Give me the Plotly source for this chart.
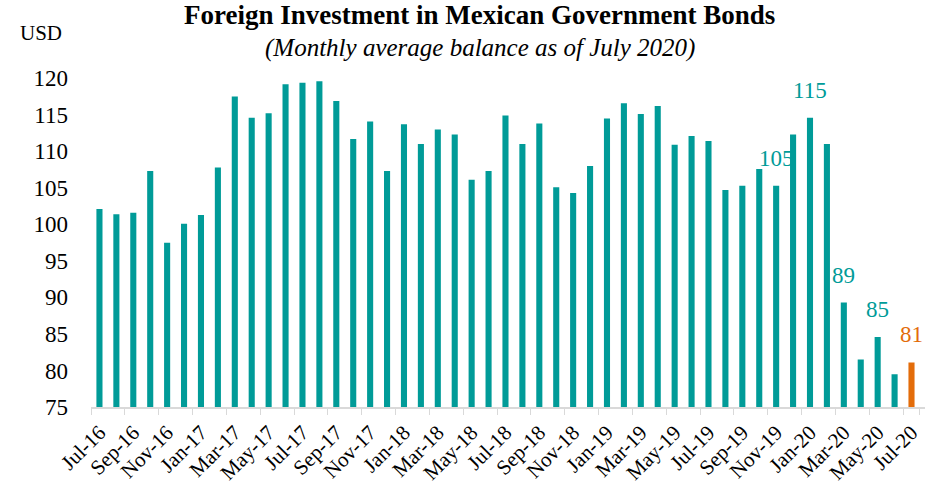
import plotly.graph_objects as go

# Monthly average balance, Jul-2016 .. Jul-2020 (USD bn)
months = [
    "Jul-16", "Aug-16", "Sep-16", "Oct-16", "Nov-16", "Dec-16",
    "Jan-17", "Feb-17", "Mar-17", "Apr-17", "May-17", "Jun-17",
    "Jul-17", "Aug-17", "Sep-17", "Oct-17", "Nov-17", "Dec-17",
    "Jan-18", "Feb-18", "Mar-18", "Apr-18", "May-18", "Jun-18",
    "Jul-18", "Aug-18", "Sep-18", "Oct-18", "Nov-18", "Dec-18",
    "Jan-19", "Feb-19", "Mar-19", "Apr-19", "May-19", "Jun-19",
    "Jul-19", "Aug-19", "Sep-19", "Oct-19", "Nov-19", "Dec-19",
    "Jan-20", "Feb-20", "Mar-20", "Apr-20", "May-20", "Jun-20",
    "Jul-20",
]
balance = [
    102.1, 101.4, 101.6, 107.3, 97.5, 100.1,
    101.3, 107.8, 117.5, 114.6, 115.2, 119.2,
    119.4, 119.6, 116.9, 111.7, 114.1, 107.3,
    113.7, 111.0, 113.0, 112.3, 106.1, 107.3,
    114.9, 111.0, 113.8, 105.1, 104.3, 108.0,
    114.5, 116.6, 115.1, 116.2, 110.9, 112.1,
    111.4, 104.7, 105.3, 107.6, 105.3, 112.3,
    114.6, 111.0, 89.3, 81.5, 84.6, 79.5,
    81.1,
]
labelled = ["Nov-19", "Jan-20", "Mar-20", "May-20", "Jul-20"]
tick_labels = months[::2]

TEAL = "#009b98"
ORANGE = "#e36c0a"
FONT = "Palatino Linotype, Book Antiqua, Palatino, Liberation Serif, serif"

colors = [ORANGE if m == months[-1] else TEAL for m in months]

fig = go.Figure(
    go.Bar(
        x=months,
        y=balance,
        marker=dict(color=colors, line=dict(width=0)),
        hoverinfo="x+y",
    )
)

for m in labelled:
    v = balance[months.index(m)]
    fig.add_annotation(
        x=m, y=v, text=f"{v:.0f}", showarrow=False,
        yanchor="bottom", yshift=13,
        font=dict(family=FONT, size=23, color=ORANGE if m == months[-1] else TEAL),
    )

fig.add_annotation(
    xref="paper", yref="paper", x=0.466, y=1.0, xanchor="center", yanchor="bottom",
    yshift=39, showarrow=False,
    text="<b>Foreign Investment in Mexican Government Bonds</b>",
    font=dict(family=FONT, size=27, color="#000000"),
)
fig.add_annotation(
    xref="paper", yref="paper", x=0.466, y=1.0, xanchor="center", yanchor="bottom",
    yshift=7, showarrow=False,
    text="<i>(Monthly average balance as of July 2020)</i>",
    font=dict(family=FONT, size=25, color="#000000"),
)
fig.add_annotation(
    xref="paper", yref="paper", x=0, y=1.0, xanchor="left", yanchor="bottom",
    xshift=-73, yshift=24, showarrow=False, text="USD",
    font=dict(family=FONT, size=21, color="#000000"),
)

fig.update_layout(
    width=935, height=489,
    margin=dict(l=91, r=10, t=71, b=82),
    paper_bgcolor="white", plot_bgcolor="white",
    bargap=0.64,
    showlegend=False,
    font=dict(family=FONT, color="#000000"),
)
fig.update_xaxes(
    type="category",
    tickmode="array", tickvals=tick_labels, ticktext=tick_labels,
    tickson="boundaries",
    ticks="outside", ticklen=6, tickcolor="#d9d9d9", tickwidth=1,
    showline=True, linecolor="#d9d9d9", linewidth=2,
    tickangle=-45, tickfont=dict(family=FONT, size=21),
    ticklabelstandoff=3,
    automargin=False,
    showgrid=False,
)
fig.update_yaxes(
    range=[75, 121],
    tickvals=[75, 80, 85, 90, 95, 100, 105, 110, 115, 120],
    showgrid=False, zeroline=False, showline=False,
    ticklabelstandoff=22,
    automargin=False,
    tickfont=dict(family=FONT, size=23),
)

fig.write_html("out.html")
